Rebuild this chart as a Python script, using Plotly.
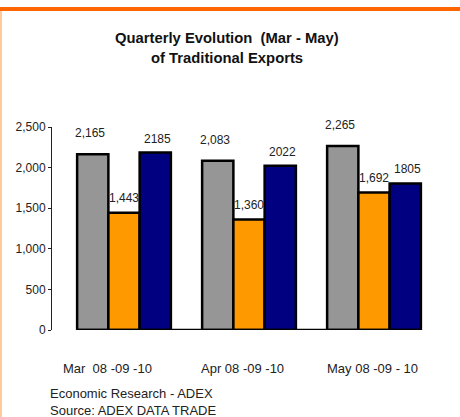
import plotly.graph_objects as go

# ---- data ----
categories = ["Mar  08 -09 -10", "Apr 08 -09 -10", "May 08 -09 - 10"]
series_names = ["2008", "2009", "2010"]
values_2008 = [2165, 2083, 2265]
values_2009 = [1443, 1360, 1692]
values_2010 = [2185, 2022, 1805]
y_ticks = [0, 500, 1000, 1500, 2000, 2500]
title_lines = ["Quarterly Evolution&nbsp;&nbsp;(Mar - May)", "of Traditional Exports"]
footer_lines = ["Economic Research - ADEX", "Source: ADEX DATA TRADE"]

# ---- styling ----
W, H = 460, 417
ML, MR, MT, MB = 52, 20, 127, 87
colors = ["#969696", "#FF9900", "#000080"]
label_fmt = ["{:,}", "{:,}", "{}"]
label_shift = [12, 6, 5]
label_xshift = [-3, 0, 2]
cat_xshift = [-17, -7, -2]
title_py = [38, 58]
footer_py = [393, 410]
bargap = 0.25
FONT = "Liberation Sans, Arial, sans-serif"

series = [values_2008, values_2009, values_2010]
xs = list(range(len(categories)))

fig = go.Figure()
for name, vals, c in zip(series_names, series, colors):
    fig.add_trace(go.Bar(x=xs, y=vals, name=name, hoverinfo="skip",
                         marker=dict(color=c, line=dict(color="black", width=2.5))))

plot_w = W - ML - MR
plot_h = H - MT - MB
x_left = -0.576
x_right = x_left + plot_w / 125.0

def px2x(px):
    return (px - ML) / plot_w

def py2y(py):
    return (H - MB - py) / plot_h

annotations = []
nser = len(series)
group_w = 1 - bargap
bw = group_w / nser
for si, vals in enumerate(series):
    for ci, v in enumerate(vals):
        xc = ci - group_w / 2 + bw * (si + 0.5)
        annotations.append(dict(x=xc, y=v, xref="x", yref="y", text=label_fmt[si].format(v),
                                showarrow=False, yanchor="bottom", yshift=label_shift[si],
                                xshift=label_xshift[si],
                                font=dict(size=12, color="#222", family=FONT)))
for ci, cat in enumerate(categories):
    annotations.append(dict(x=ci, y=0, xref="x", yref="paper", text=cat, showarrow=False,
                            yanchor="middle", yshift=-38, xshift=cat_xshift[ci],
                            font=dict(size=13, color="#222", family=FONT)))
for line, py in zip(footer_lines, footer_py):
    annotations.append(dict(x=px2x(48), y=py2y(py), xref="paper", yref="paper", text=line,
                            showarrow=False, xanchor="left", yanchor="middle",
                            font=dict(size=13, color="#222", family=FONT)))
for line, py in zip(title_lines, title_py):
    annotations.append(dict(x=px2x(227), y=py2y(py), xref="paper", yref="paper",
                            text="<b>" + line + "</b>", showarrow=False,
                            xanchor="center", yanchor="middle",
                            font=dict(size=14.8, color="#111", family=FONT)))

shapes = [
    # baseline / floor
    dict(type="line", xref="x", yref="y", x0=-group_w / 2, x1=len(categories) - 1 + group_w / 2,
         y0=0, y1=0, line=dict(color="black", width=2.5)),
    # top orange border
    dict(type="rect", xref="paper", yref="paper", x0=px2x(0), x1=px2x(W), y0=py2y(11), y1=py2y(7),
         fillcolor="#FF6600", line=dict(width=0), layer="above"),
    # left peach border
    dict(type="rect", xref="paper", yref="paper", x0=px2x(0), x1=px2x(2), y0=py2y(H), y1=py2y(11),
         fillcolor="#FFCC99", line=dict(width=0), layer="above"),
]

fig.update_layout(
    width=W, height=H,
    margin=dict(l=ML, r=MR, t=MT, b=MB),
    paper_bgcolor="white", plot_bgcolor="white",
    barmode="group", bargap=bargap, bargroupgap=0,
    showlegend=False,
    xaxis=dict(range=[x_left, x_right], showticklabels=False, showgrid=False, zeroline=False,
               showline=False, ticks="", fixedrange=True),
    yaxis=dict(range=[0, 2500], tickvals=y_ticks, tickformat=",d", showgrid=False, zeroline=False,
               showline=True, linecolor="#222", linewidth=1, ticks="outside", ticklen=3,
               tickcolor="#222", tickfont=dict(size=12, color="#222", family=FONT), fixedrange=True),
    annotations=annotations,
    shapes=shapes,
)

fig.write_html("out.html", config={"displayModeBar": False},
               post_script="document.body.style.margin='0';document.body.style.overflow='hidden';")
